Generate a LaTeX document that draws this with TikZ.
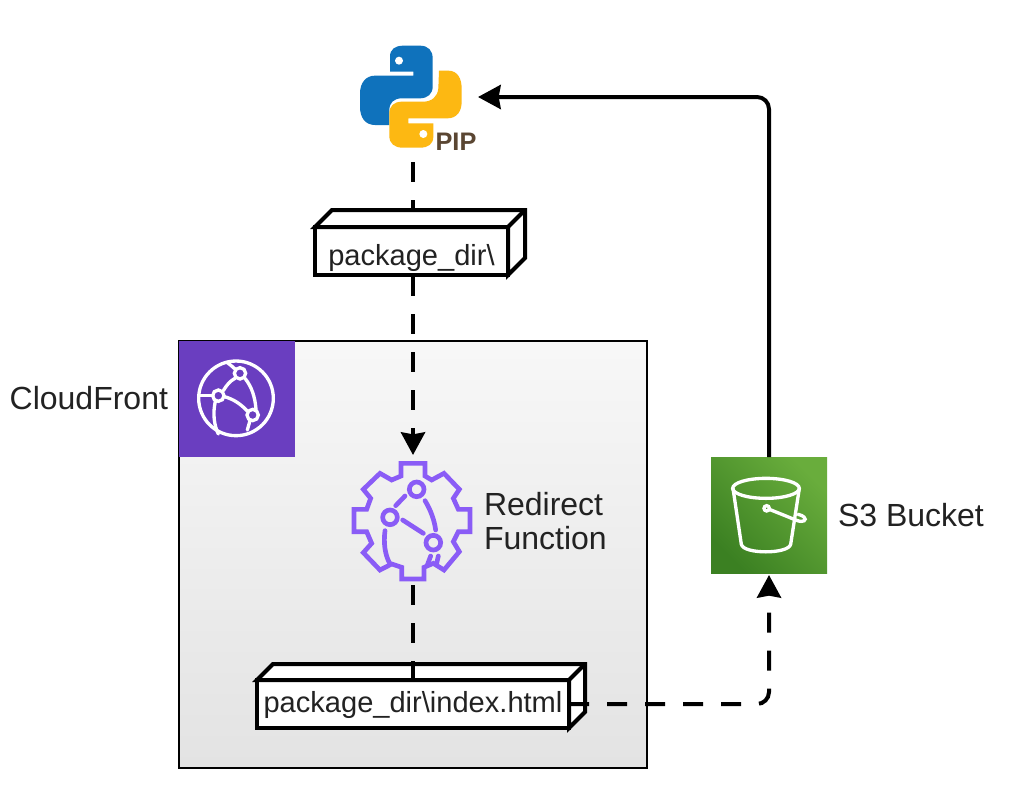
\documentclass[tikz,border=0pt]{standalone}
\usepackage{fontspec}
\setmainfont{Liberation Sans}
\usetikzlibrary{arrows.meta}
\definecolor{pyblue}{HTML}{0F72BC}
\definecolor{pyyellow}{HTML}{FDB812}
\definecolor{pipbrown}{HTML}{5A4632}
\definecolor{cfpurple}{HTML}{6A3EC0}
\definecolor{gearpurple}{HTML}{8A5CF6}
\definecolor{sdark}{HTML}{3B8022}
\definecolor{slight}{HTML}{69AD3C}
\definecolor{txt}{HTML}{222222}
\tikzset{
  x=.75pt,y=-.75pt,
  label text/.style={font=\fontsize{24pt}{25pt}\selectfont,text=txt,inner sep=0pt,outer sep=0pt},
  box text/.style={font=\fontsize{21.8pt}{24pt}\selectfont,text=txt,inner sep=0pt,outer sep=0pt},
  cube face/.style={draw=black,fill=white,line width=3pt,line join=miter},
  conn/.style={draw=black,line width=3pt},
  dashconn/.style={conn,dash pattern=on 15pt off 13.5pt},
  tip/.style={-{Stealth[length=17pt,width=18pt,inset=1.5pt]}},
  squarenode/.style={minimum width=87pt,minimum height=87pt,inner sep=0pt,outer sep=0pt},
  anchorbox/.style={inner sep=0pt,outer sep=0pt},
  iconw/.style={draw=white,line width=2.5pt,line cap=round},
  icong/.style={draw=gearpurple,line width=3.5pt,line cap=round,line join=miter},
}
\begin{document}
\begin{tikzpicture}
\useasboundingbox (0,0) rectangle (1024,800);
\fill[white] (0,0) rectangle (1024,800);

% CloudFront container
\node[anchorbox,draw=black,line width=1.1pt,top color=black!3,bottom color=black!11,
  minimum width=351pt,minimum height=320.25pt] (region) at (413,554.5) {};
\node[squarenode,fill=cfpurple] (cf) at (237,398.5) {};
\node[label text,anchor=east] (cflabel) at (168,398) {CloudFront};

% CloudFront icon
\begin{scope}[shift={(170,330)},scale=1/3]
  \draw[iconw] (198,205) circle (112);
  \draw[iconw] (210,130) circle (17);
  \draw[iconw] (145,197) circle (17);
  \draw[iconw] (248,255) circle (17);
  \draw[iconw] (86,197) -- (128,197);
  \draw[iconw] (195,145) .. controls (180,153) and (170,165) .. (160,182);
  \draw[iconw] (225,145) .. controls (245,170) and (255,200) .. (258,238);
  \draw[iconw] (163,200) .. controls (190,207) and (212,222) .. (232,243);
  \draw[iconw] (136,214) .. controls (128,250) and (132,285) .. (145,312);
  \draw[iconw] (196,118) .. controls (185,108) and (178,102) .. (172,98);
  \draw[iconw] (240,272) -- (232,300);
\end{scope}

% invisible anchors for the logo and the function icon
\node[anchorbox,minimum width=97.5pt,minimum height=97.5pt] (pip) at (413,97) {};
\node[anchorbox,minimum width=90pt,minimum height=97.5pt] (gear) at (413,520) {};

% Python logo
\begin{scope}[shift={(340,30)},scale=1/3]
  \fill[pyblue] (150,125) -- (150,80) .. controls (150,58) and (165,47) .. (190,47)
    -- (240,47) .. controls (265,47) and (278,62) .. (278,85) -- (278,170)
    .. controls (278,192) and (262,205) .. (240,205) -- (185,205)
    .. controls (162,205) and (148,218) .. (148,240) -- (148,285) -- (105,285)
    .. controls (75,285) and (60,262) .. (60,230) -- (60,190)
    .. controls (60,158) and (78,137) .. (105,137) -- (220,137) -- (220,125) -- cycle;
  \fill[pyyellow] (297,122) -- (325,122) .. controls (352,122) and (365,145) .. (365,175)
    -- (365,215) .. controls (365,245) and (350,265) .. (322,265) -- (205,265)
    -- (205,280) -- (280,280) -- (280,320) .. controls (280,342) and (265,353) .. (240,353)
    -- (188,353) .. controls (163,353) and (148,340) .. (148,318) -- (148,250)
    .. controls (148,228) and (163,215) .. (185,215) -- (250,215)
    .. controls (275,215) and (293,200) .. (295,175) -- cycle;
  \fill[white] (177,92) circle (12);
  \fill[white] (250,312) circle (12);
\end{scope}
\node[anchorbox,font=\bfseries\fontsize{19pt}{19pt}\selectfont,text=pipbrown] (piplabel) at (456,142) {PIP};

% Redirect function icon
\begin{scope}[shift={(340,430)},scale=1/3]
  \draw[icong] (183,100) -- (255,100) -- (255,138) -- (275,150) -- (312,130) -- (358,178)
    -- (340,205) -- (355,238) -- (390,238) -- (390,305) -- (355,305) -- (340,335)
    -- (358,365) -- (312,420) -- (280,400) -- (252,412) -- (252,447) -- (185,447)
    -- (185,412) -- (155,402) -- (120,420) -- (70,368) -- (95,340) -- (80,305)
    -- (42,305) -- (42,238) -- (80,238) -- (92,205) -- (70,178) -- (120,130)
    -- (155,150) -- (183,138) -- cycle;
  \draw[icong] (230,178) circle (22);
  \draw[icong] (150,262) circle (22);
  \draw[icong] (280,338) circle (22);
  \draw[icong] (167,227) -- (195,198);
  \draw[icong] (255,212) .. controls (272,240) and (283,270) .. (287,300);
  \draw[icong] (188,270) -- (250,310);
  \draw[icong] (135,302) .. controls (130,340) and (135,375) .. (150,402);
  \draw[icong] (272,378) -- (262,405);
  \draw[icong] (295,378) -- (290,400);
\end{scope}
\node[label text,anchor=west,align=left] (fnlabel) at (484,521) {Redirect\\Function};

% S3 bucket
\node[squarenode,left color=sdark,right color=slight,shading angle=135] (s3) at (769,515) {};
\node[label text,anchor=west] (s3label) at (838,515) {S3 Bucket};
\begin{scope}[shift={(700,445)},scale=1/3]
  \draw[iconw] (198,130) ellipse (100 and 30);
  \draw[iconw] (99,130) -- (124,298) .. controls (130,328) and (265,328) .. (272,298) -- (298,130);
  \draw[iconw] (200,190) circle (8);
  \draw[iconw] (208,193) -- (290,226) .. controls (310,234) and (322,225) .. (312,216) .. controls (308,212) and (302,210) .. (294,208);
\end{scope}

% pip to function, running behind the package_dir box
\draw[dashconn,tip] (pip.south) -- (gear.north);

% package_dir box
\node[box text,cube face,text height=21pt,text depth=0pt,minimum width=144.75pt,minimum height=36pt] (pkg) at (411.5,251) {package\_dir\textbackslash};
\draw[cube face] (pkg.north west) -- ([shift={(17,-17)}]pkg.north west) -- ([shift={(17,-17)}]pkg.north east)
  -- ([shift={(17,-17)}]pkg.south east) -- (pkg.south east) -- (pkg.north east) -- cycle;
\draw[cube face] (pkg.north east) -- ([shift={(17,-17)}]pkg.north east);

% index box
\node[box text,cube face,text height=13pt,text depth=0pt,minimum width=234pt,minimum height=36pt] (index) at (413,704) {package\_dir\textbackslash index.html};
\draw[cube face] (index.north west) -- ([shift={(16,-16)}]index.north west) -- ([shift={(16,-16)}]index.north east)
  -- ([shift={(16,-16)}]index.south east) -- (index.south east) -- (index.north east) -- cycle;
\draw[cube face] (index.north east) -- ([shift={(16,-16)}]index.north east);

% remaining connectors
\draw[dashconn] (gear.south) -- (index.north);
\draw[dashconn,tip,rounded corners=9pt,shorten >=1.5pt] (index.east) -| (s3.south);
\draw[conn,tip,rounded corners=9pt] (s3.north) |- (pip.east);
\end{tikzpicture}
\end{document}
